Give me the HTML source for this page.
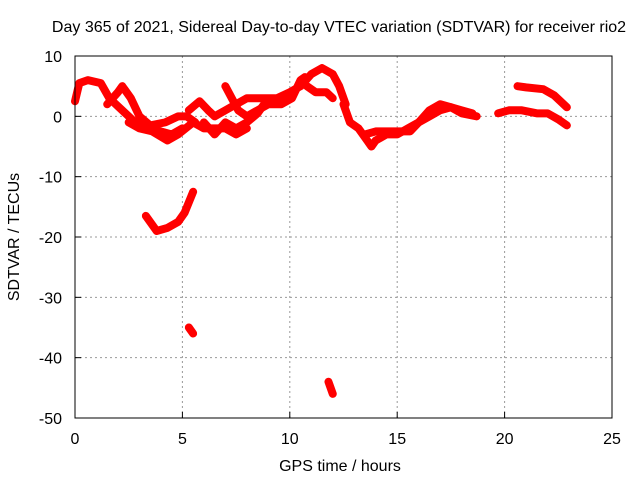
<!DOCTYPE html>
<html><head><meta charset="utf-8"><style>
body{margin:0;background:#fff}
svg{display:block;font-family:"Liberation Sans",sans-serif}
</style></head><body>
<svg width="640" height="480">
<text x="339" y="32" font-size="16" text-anchor="middle">Day 365 of 2021, Sidereal Day-to-day VTEC variation (SDTVAR) for receiver rio2</text>
<g id="grid"></g>
<g id="marks"></g>
<rect x="75" y="56" width="537" height="362" fill="none" stroke="#000" stroke-width="1"/>
<g id="ticks"></g>
<text x="340" y="471" font-size="16" text-anchor="middle">GPS time / hours</text>
<text transform="translate(19,237) rotate(-90)" font-size="16" text-anchor="middle">SDTVAR / TECUs</text>
</svg>
<script>
const xTicks=[0,5,10,15,20,25];
const yTicks=[10,0,-10,-20,-30,-40,-50];
const track1=[[0,2.5],[0.2,5.5],[0.6,6],[1.2,5.5],[1.6,3],[2.2,1],[2.8,-1],[3.3,-2],[4,-2.5],[4.5,-3],[5,-2]];
const track2=[[1.5,2],[2,4],[2.2,5],[2.6,3],[3,0],[3.5,-1.5],[4.2,-1],[4.8,0],[5.2,0],[5.6,-1]];
const track3=[[2.5,-1],[3,-2],[3.6,-2.5],[4.3,-4],[4.8,-3],[5.5,-1],[6,-2],[6.5,-2],[7,-2],[7.5,-3],[8,-2]];
const track4=[[5.3,1],[5.8,2.5],[6.2,1],[6.5,0],[7,1],[7.5,2],[8,3],[8.6,3],[9.4,3],[10,4],[10.5,5],[11,7],[11.5,8],[12,7],[12.3,5],[12.6,2]];
const track5=[[7,5],[7.3,3],[7.6,1],[8,0],[8.5,1],[9,2],[9.6,2],[10.1,3],[10.5,6],[10.7,6.5]];
const track6=[[6,-1],[6.5,-3],[7,-1],[7.5,-2],[8,-1],[8.5,0.5],[8.8,2]];
const track7=[[10.8,5],[11.2,4],[11.7,4],[12,3]];
const track8=[[12.5,2],[12.8,-1],[13.2,-2],[13.6,-4],[13.8,-5],[14,-4],[14.5,-3],[15,-3],[15.5,-2],[16,-1],[16.5,1],[17,2],[17.5,1.5],[18,0.5],[18.7,0]];
const track9=[[13.5,-3],[14,-2.5],[14.5,-2.5],[15,-2.5],[15.6,-2.5],[16,-1],[16.5,0],[17,1],[17.5,1.5],[18,1],[18.5,0.5]];
const track10=[[19.7,0.5],[20.2,1],[20.8,1],[21.5,0.5],[22,0.5],[22.5,-0.5],[22.9,-1.5]];
const track11=[[20.6,5],[21,4.8],[21.8,4.5],[22.3,3.5],[22.9,1.5]];
const track12=[[3.3,-16.5],[3.5,-17.5],[3.8,-19],[4.3,-18.5],[4.8,-17.5],[5.1,-16],[5.5,-12.5]];
const track13=[[5.3,-35],[5.5,-36]];
const track14=[[11.8,-44],[12,-46]];
const tracks=[track1,track2,track3,track4,track5,track6,track7,track8,track9,track10,track11,track12,track13,track14];
const NS="http://www.w3.org/2000/svg";
const X=h=>75+h*(537/25);
const Y=v=>56+(10-v)*(362/60);
const grid=document.getElementById('grid'),ticks=document.getElementById('ticks'),marks=document.getElementById('marks');
function mk(tag,a){const e=document.createElementNS(NS,tag);for(const k in a)e.setAttribute(k,a[k]);return e;}
xTicks.forEach(t=>{
 if(t>0&&t<25){const g=mk('line',{x1:X(t),x2:X(t),y1:56,y2:418,stroke:'#999','stroke-dasharray':'2,3'});
 
 
 grid.appendChild(g);}
 const tl=mk('line',{x1:X(t),x2:X(t),y1:418,y2:412,stroke:'#000'});
 
 
 ticks.appendChild(tl);
 const tx=mk('text',{x:X(t),y:444,'font-size':16,'text-anchor':'middle'});tx.textContent=t;
 
 
 ticks.appendChild(tx);
});
yTicks.forEach(t=>{
 if(t<10&&t>-50){const g=mk('line',{x1:75,x2:612,y1:Y(t),y2:Y(t),stroke:'#999','stroke-dasharray':'2,3'});
 
 
 grid.appendChild(g);}
 const tl=mk('line',{x1:75,x2:81,y1:Y(t),y2:Y(t),stroke:'#000'});
 
 
 ticks.appendChild(tl);
 const tx=mk('text',{x:62,y:Y(t)+6,'font-size':16,'text-anchor':'end'});tx.textContent=t;
 
 
 ticks.appendChild(tx);
});
tracks.forEach(tr=>{
 const p=mk('polyline',{points:tr.map(d=>X(d[0])+','+Y(d[1])).join(' '),fill:'none',stroke:'#f00','stroke-width':8,'stroke-linejoin':'round','stroke-linecap':'round'});
 
 
 marks.appendChild(p);
});
</script>
</body></html>
